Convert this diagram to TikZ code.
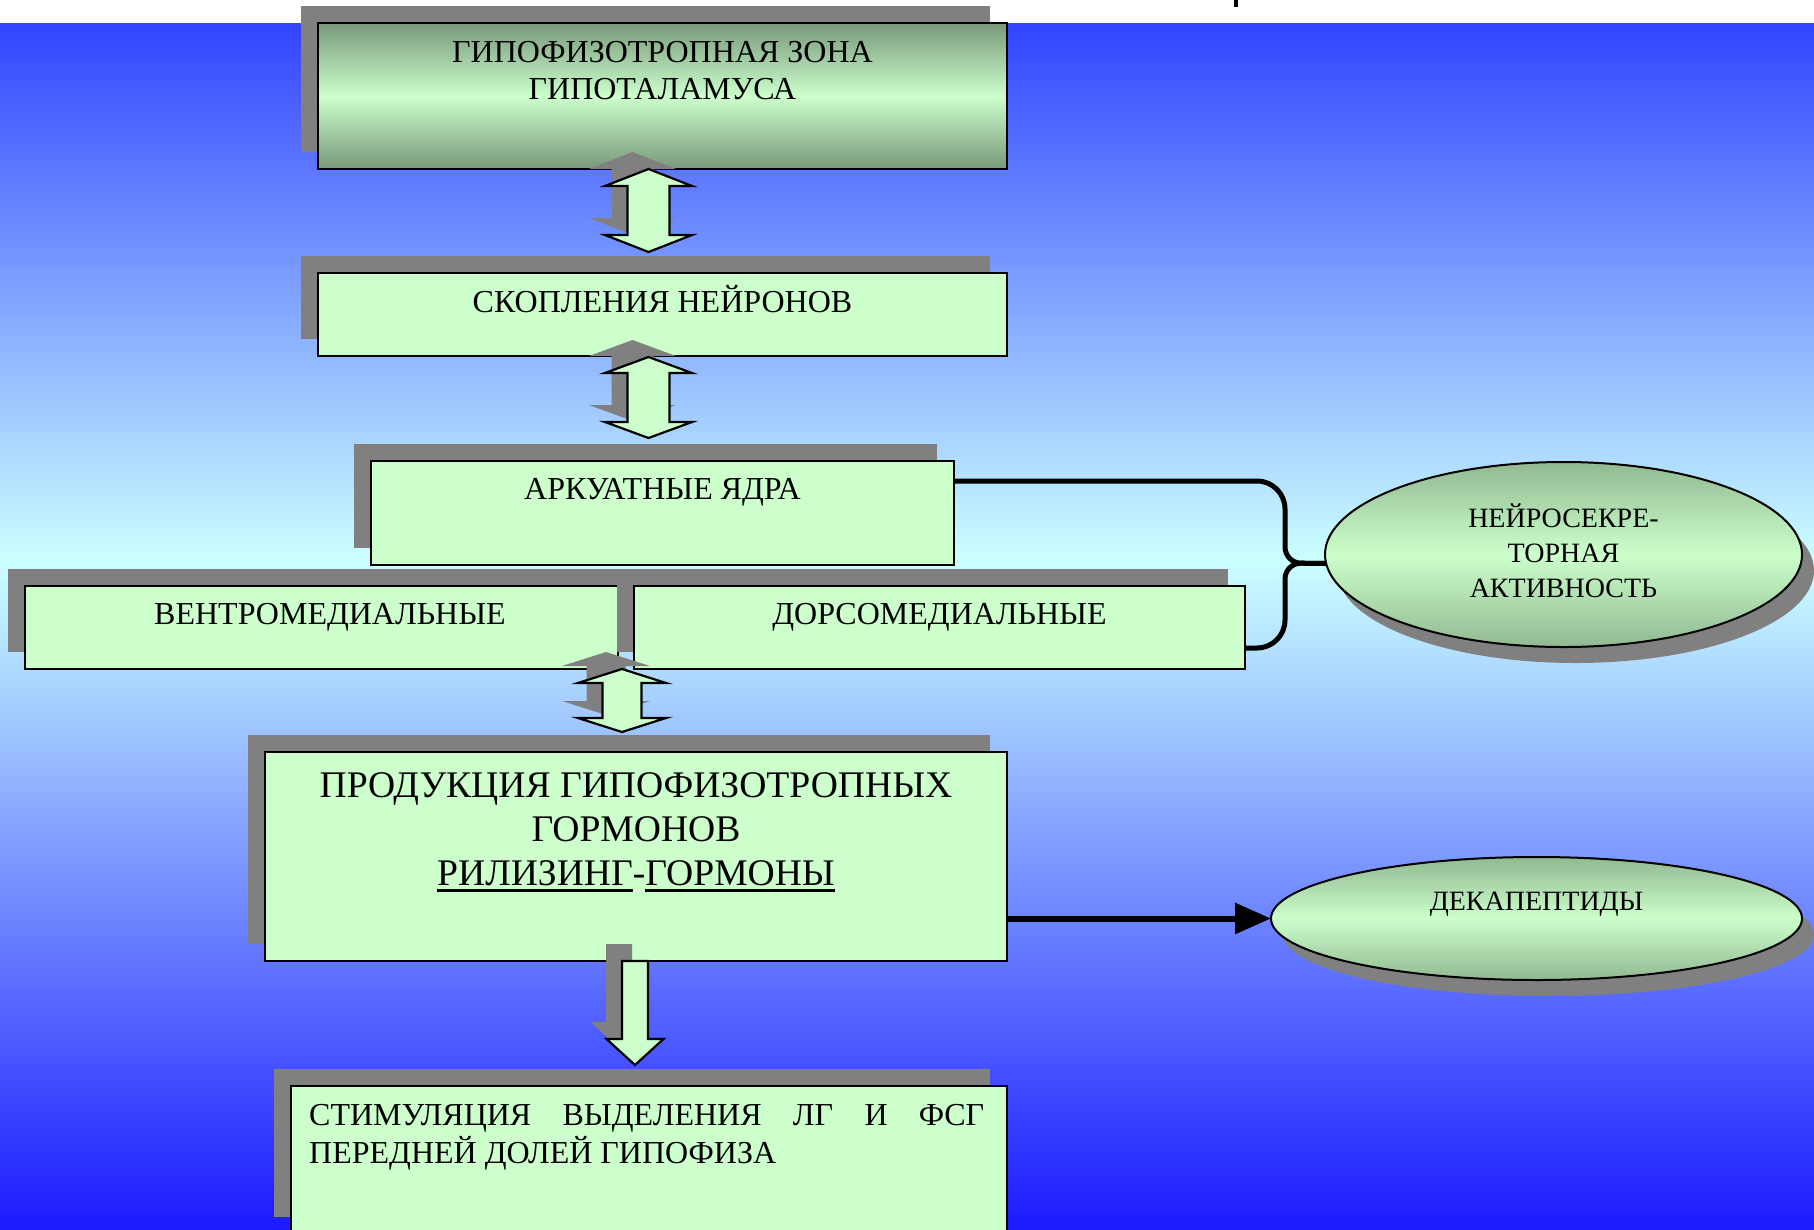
\documentclass[tikz,border=0pt]{standalone}
\usepackage{fontspec}
\setmainfont{Liberation Serif}
\usetikzlibrary{calc,shapes.geometric,arrows.meta}

\definecolor{bgtop}{RGB}{51,68,255}
\definecolor{bgmid}{RGB}{204,255,255}
\definecolor{bgbot}{RGB}{26,26,255}
\definecolor{mint}{RGB}{204,255,204}
\definecolor{sage}{RGB}{120,152,122}
\definecolor{sagelt}{RGB}{145,185,145}
\definecolor{shadowgray}{RGB}{128,128,128}

% underlined word with a heavy rule below the baseline
\newcommand\ulword[1]{\setbox0\hbox{#1}\rlap{\raisebox{-7pt}{\rule{\wd0}{3.5pt}}}\box0}

% rectangle with its grey offset shadow: name, x1, y1, x2, y2, style
\newcommand\panel[6]{%
  \fill[shadowgray] ({#2-17},{#3-17}) rectangle ({#4-17},{#5-17});
  \node[#6, anchor=north west, minimum width={#4-#2}, minimum height={#5-#3}] (#1) at (#2,#3) {};
}

% double block arrow with shadow: cx, top, bottom, head half, shaft half, head length
\newcommand\twoway[6]{%
  \foreach \st in {arrowshadow, blockarrow}{
  \path[\st] ({#1},{#2}) -- ({#1+#4},{#2+#6}) -- ({#1+#5},{#2+#6}) -- ({#1+#5},{#3-#6})
    -- ({#1+#4},{#3-#6}) -- ({#1},{#3}) -- ({#1-#4},{#3-#6}) -- ({#1-#5},{#3-#6})
    -- ({#1-#5},{#2+#6}) -- ({#1-#4},{#2+#6}) -- cycle;}
}

\tikzset{
  arrowshadow/.style={fill=shadowgray, shift={(-16,-17)}},
  blockarrow/.style={fill=mint, draw=black, line width=2.2pt, line join=miter},
  plainbox/.style={rectangle, fill=mint, draw=black, line width=2pt, inner sep=0pt, outer sep=0pt},
  shadedbox/.style={rectangle, draw=black, line width=2pt, inner sep=0pt, outer sep=0pt,
    top color=sage, bottom color=sage, middle color=mint},
  oval/.style={ellipse, draw=black, line width=2pt, inner sep=0pt, outer sep=0pt,
    top color=sagelt, bottom color=sagelt, middle color=mint},
  lbl/.style={inner sep=0pt, font=\fontsize{32}{37}\selectfont},
  biglbl/.style={inner sep=0pt, font=\fontsize{37.6}{44}\selectfont},
  ovallbl/.style={inner sep=0pt, font=\fontsize{28}{34}\selectfont},
  brace/.style={draw=black, line width=5pt, line join=round},
  link/.style={draw=black, line width=6pt, -{Triangle[length=36pt,width=30pt]}},
}

\begin{document}
\begin{tikzpicture}[x=1pt,y=-1pt]
\useasboundingbox (0,0) rectangle (1814,1229);
\clip (0,0) rectangle (1814,1229);

% backdrop
\fill[white] (0,0) rectangle (1814,23);
\shade[top color=bgtop, bottom color=bgmid] (0,23) rectangle (1814,561);
\shade[top color=bgmid, bottom color=bgbot] (0,560) rectangle (1814,1229);
\fill[black] (1234,0) rectangle (1238,7);

% boxes
\panel{b1}{318}{23}{1007}{169}{shadedbox}
\panel{b2}{318}{273}{1007}{356}{plainbox}
\panel{b3}{371}{461}{954}{565}{plainbox}
\fill[shadowgray] (598,569) rectangle (620,652);
\panel{b4}{25}{586}{618}{669}{plainbox}
\panel{b5}{634}{586}{1245}{669}{plainbox}
\panel{b6}{265}{752}{1007}{961}{plainbox}
\panel{b7}{291}{1086}{1007}{1234}{plainbox}

% ovals
\fill[shadowgray] (1575.5,570.5) ellipse [x radius=238.5, y radius=92.5];
\node[oval, minimum width=477, minimum height=185] (e1) at (1563.5,554.5) {};
\fill[shadowgray] (1548.5,934.5) ellipse [x radius=265.5, y radius=61.5];
\node[oval, minimum width=531, minimum height=123] (e2) at (1536.5,918.5) {};

% brace gathering the nuclei
\coordinate (tip) at ($(e1.west)+(1,9)$);
\draw[brace] ($(b3.north east)+(0,20)$) [rounded corners=28] -- (1285,481)
  [rounded corners=16] -- (1285,563) [sharp corners] -- (tip);
\draw[brace] (tip) [rounded corners=16] -- (1285,563) [rounded corners=28] -- (1285,648)
  [sharp corners] -- ($(b5.south east)+(0,-21)$);

% output arrow
\draw[link] (b6.east |- e2.west) -- (e2.west);

% block arrows between levels
\twoway{648.5}{169}{252}{43.5}{21}{17}
\twoway{648.5}{357}{438}{43.5}{21}{16}
\twoway{622}{669}{732}{44}{19.5}{14}
\foreach \st in {arrowshadow, blockarrow}
  \path[\st] (622,961) -- (648,961) -- (648,1039) -- (663.5,1039) -- (635,1065)
    -- (606.5,1039) -- (622,1039) -- cycle;

% labels
\node[lbl, anchor=base] (t1a) at (662.5,62) {ГИПОФИЗОТРОПНАЯ ЗОНА};
\node[lbl, anchor=base] (t1b) at (662.5,99) {ГИПОТАЛАМУСА};
\node[lbl, anchor=base] (t2) at (662.5,312) {СКОПЛЕНИЯ НЕЙРОНОВ};
\node[lbl, anchor=base] (t3) at (662.5,499) {АРКУАТНЫЕ ЯДРА};
\node[lbl, anchor=base] (t4) at (330,624) {ВЕНТРОМЕДИАЛЬНЫЕ};
\node[lbl, anchor=base] (t5) at (939.5,624) {ДОРСОМЕДИАЛЬНЫЕ};
\node[biglbl, anchor=base] (t6a) at (636,797) {ПРОДУКЦИЯ ГИПОФИЗОТРОПНЫХ};
\node[biglbl, anchor=base] (t6b) at (636,841) {ГОРМОНОВ};
\node[biglbl, anchor=base] (t6c) at (636,885) {\ulword{РИЛИЗИНГ}-\ulword{ГОРМОНЫ}};
\node[lbl, anchor=base west] (t7a) at (309,1125)
  {\hbox to 675pt{СТИМУЛЯЦИЯ\hfill ВЫДЕЛЕНИЯ\hfill ЛГ\hfill И\hfill ФСГ}};
\node[lbl, anchor=base west] (t7b) at (309,1163) {ПЕРЕДНЕЙ ДОЛЕЙ ГИПОФИЗА};
\node[ovallbl, anchor=base] (te1a) at (1563.5,527) {НЕЙРОСЕКРЕ-};
\node[ovallbl, anchor=base] (te1b) at (1563.5,562) {ТОРНАЯ};
\node[ovallbl, anchor=base] (te1c) at (1563.5,597) {АКТИВНОСТЬ};
\node[ovallbl, anchor=base] (te2) at (1536.5,910) {ДЕКАПЕПТИДЫ};
\end{tikzpicture}
\end{document}
